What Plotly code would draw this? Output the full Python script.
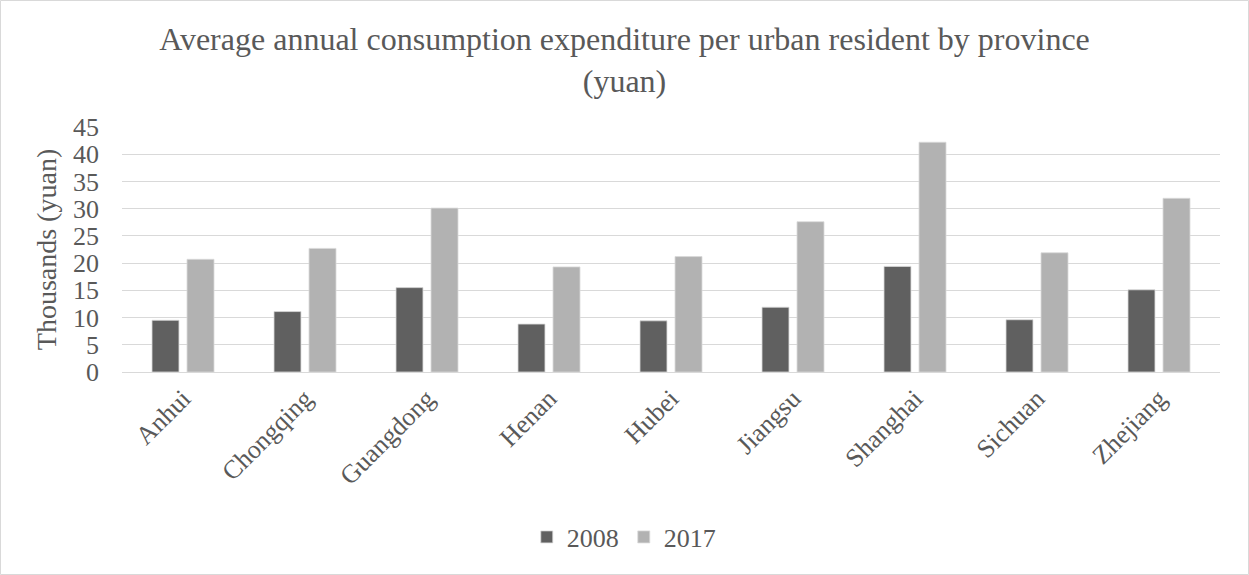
import plotly.graph_objects as go

provinces = ["Anhui", "Chongqing", "Guangdong", "Henan", "Hubei",
             "Jiangsu", "Shanghai", "Sichuan", "Zhejiang"]
spend_2008 = [9.5, 11.1, 15.5, 8.8, 9.4, 11.9, 19.4, 9.6, 15.1]
spend_2017 = [20.7, 22.7, 30.1, 19.3, 21.2, 27.6, 42.2, 21.9, 31.9]
y_ticks = [0, 5, 10, 15, 20, 25, 30, 35, 40, 45]

W, H = 1249, 575
ML, MR, MT, MB = 122, 29, 127, 203
PW, PH = W - ML - MR, H - MT - MB

FONT = "Liberation Serif, Times New Roman, serif"
TXT = "#595959"

fig = go.Figure()
fig.add_trace(go.Bar(name="2008", x=provinces, y=spend_2008,
                     marker=dict(color="#606060", line=dict(color="#d9d9d9", width=0.8))))
fig.add_trace(go.Bar(name="2017", x=provinces, y=spend_2017,
                     marker=dict(color="#b2b2b2", line=dict(color="#d9d9d9", width=0.8))))

# light frame around the whole chart area
fig.add_shape(type="rect", xref="paper", yref="paper",
              x0=(-ML + 0.5) / PW, x1=1 + (MR - 0.5) / PW,
              y0=(-MB + 0.5) / PH, y1=1 + (MT - 0.5) / PH,
              line=dict(color="#d9d9d9", width=1), fillcolor="rgba(0,0,0,0)",
              layer="below")

fig.update_layout(
    width=W, height=H,
    margin=dict(l=ML, r=MR, t=MT, b=MB, pad=0),
    paper_bgcolor="white", plot_bgcolor="white",
    barmode="group", bargap=0.426, bargroupgap=0.23,
    font=dict(family=FONT, color=TXT, size=26),
    title=dict(text="Average annual consumption expenditure per urban resident by province<br>(yuan)",
               x=0.5, xanchor="center", xref="container", y=1 - 50 / H, yanchor="top",
               font=dict(family=FONT, size=32, color=TXT)),
    legend=dict(orientation="h", x=0.457, xanchor="center", y=-(537 - 372) / PH,
                yanchor="middle", font=dict(family=FONT, size=26, color=TXT),
                itemwidth=30, tracegroupgap=0),
    showlegend=True,
)
fig.update_xaxes(tickangle=-45, showgrid=False, showline=True, linecolor="#d9d9d9",
                 linewidth=1, ticks="", tickfont=dict(family=FONT, size=26, color=TXT))
fig.update_yaxes(range=[0, 45], tickvals=y_ticks, showgrid=True, gridcolor="#d9d9d9",
                 gridwidth=1, zeroline=False, showline=False, ticks="",
                 ticklabelstandoff=22,
                 tickfont=dict(family=FONT, size=26, color=TXT),
                 title=dict(text="Thousands (yuan)", standoff=8,
                            font=dict(family=FONT, size=28, color=TXT)))

fig.write_html("out.html")
